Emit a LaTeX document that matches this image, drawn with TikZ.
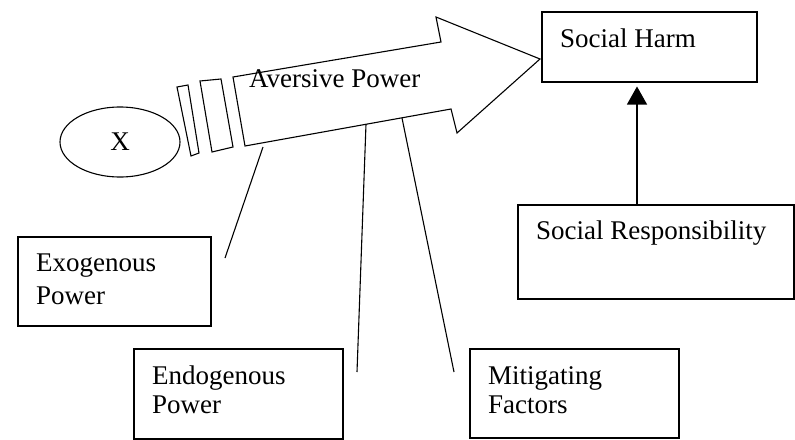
\documentclass[tikz,border=0pt]{standalone}
\usepackage{fontspec}
\setmainfont{Liberation Serif}
\usetikzlibrary{arrows.meta,shapes.geometric}

\tikzset{
  box/.style={draw, line width=1.5pt, inner sep=0pt, anchor=north west},
  boxtext/.style={anchor=north west, inner sep=0pt, align=left, xshift=19pt, yshift=-18pt},
  stick/.style={line width=1.1pt}
}

\begin{document}
\begin{tikzpicture}[x=1pt, y=-1pt, font=\fontsize{27}{29}\selectfont]
    \useasboundingbox (0,0) rectangle (795,439);

    % The source
    \node[draw, ellipse, line width=1.1pt, minimum width=120, minimum height=70, inner sep=0pt] (x) at (120,142) {X};

    % Two rings behind the arrow
    \draw[stick] (177,87) -- (188,85) -- (199,153) -- (191,156) -- cycle;
    \draw[stick] (200,81) -- (221,79) -- (233,147) -- (212,152) -- cycle;

    % The big arrow
    \coordinate (tl) at (233,77);
    \coordinate (nt) at (441,42);
    \coordinate (bt) at (436,17);
    \coordinate (tip) at (540,59);
    \coordinate (bb) at (457,133);
    \coordinate (nb) at (451,109);
    \coordinate (bl) at (245,146);
    \draw[stick, line join=miter] (tl) -- (nt) -- (bt) -- (tip) -- (bb) -- (nb) -- (bl) -- cycle;
    \node[anchor=west, inner sep=0pt] (aversive) at (249,79) {Aversive Power};

    % Boxes
    \node[box, minimum width=193, minimum height=89] (exo) at (17,236) {};
    \node[boxtext] (exotext) at (exo.north west) {Exogenous\\[4pt]Power};

    \node[box, minimum width=209, minimum height=90] (endo) at (133,348) {};
    \node[boxtext] (endotext) at (endo.north west) {Endogenous\\Power};

    \node[box, minimum width=209, minimum height=89] (mitig) at (469,348) {};
    \node[boxtext] (mitigtext) at (mitig.north west) {Mitigating\\Factors};

    \node[box, minimum width=215, minimum height=70] (harm) at (541,11) {};
    \node[boxtext] (harmtext) at (harm.north west) {Social Harm};

    \node[box, minimum width=276, minimum height=94] (resp) at (517,204) {};
    \node[boxtext, yshift=1pt] (resptext) at (resp.north west) {Social Responsibility};

    % Lines hanging off the arrow
    \coordinate (exofoot) at (263,147);
    \coordinate (exoend) at (225,258);
    \coordinate (endofoot) at (366,124);
    \coordinate (endoend) at (357,372);
    \coordinate (mitigfoot) at (402,118);
    \coordinate (mitigend) at (454,372);
    \draw[stick] (exofoot) -- (exoend);
    \draw[stick] (endofoot) -- (endoend);
    \draw[stick] (mitigfoot) -- (mitigend);

    % Responsibility pushes up on harm
    \coordinate (up) at (637,0);
    \draw[stick, -{Triangle[width=20pt,length=18pt]}, shorten >=4pt] (resp.north -| up) -- (harm.south -| up);
\end{tikzpicture}
\end{document}
